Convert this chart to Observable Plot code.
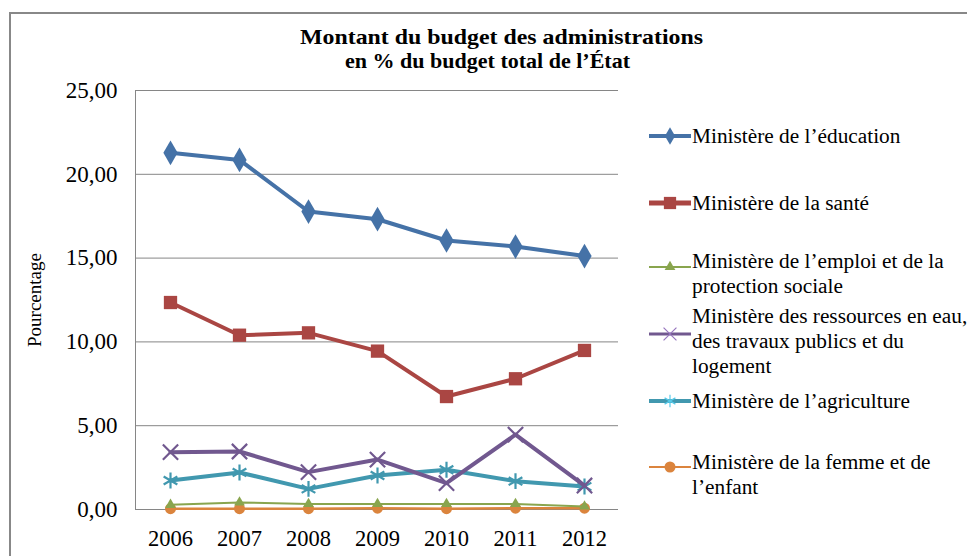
<!DOCTYPE html>
<html>
<head>
<meta charset="utf-8">
<script src="https://cdn.jsdelivr.net/npm/d3@7"></script>
<script src="https://cdn.jsdelivr.net/npm/@observablehq/plot@0.6"></script>
<style>
  html, body { margin: 0; padding: 0; background: #fff; }
  #wrap { position: relative; width: 967px; height: 556px; overflow: hidden; font-family: "Liberation Serif", "Times New Roman", serif; }
  #frame { position: absolute; left: 9px; top: 12px; width: 1000px; height: 600px; border-left: 2px solid #888; border-top: 2px solid #888; }
  .title { position: absolute; font-weight: bold; font-size: 22px; line-height: 24px; color: #000; white-space: nowrap; transform-origin: 0 50%; }
  #chart { position: absolute; left: 0; top: 0; }
  .leg { position: absolute; left: 692px; font-size: 20px; line-height: 25px; color: #000; white-space: nowrap; transform: scaleX(1.066); transform-origin: 0 50%; }
  #legsw { position: absolute; left: 0; top: 0; }
</style>
</head>
<body>
<div id="wrap">
  <div id="frame"></div>
  <div id="chart"></div>
  <div class="title" id="t1" style="left:300px; top:25px;">Montant du budget des administrations</div>
  <div class="title" id="t2" style="left:345px; top:49px;">en % du budget total de l’État</div>
</div>
<script>
const years = ["2006", "2007", "2008", "2009", "2010", "2011", "2012"];
const seriesNames = [
  "Ministère de l’éducation",
  "Ministère de la santé",
  "Ministère de l’emploi et de la protection sociale",
  "Ministère des ressources en eau, des travaux publics et du logement",
  "Ministère de l’agriculture",
  "Ministère de la femme et de l’enfant"
];
const education   = [21.28, 20.86, 17.78, 17.32, 16.05, 15.69, 15.12];
const sante       = [12.35, 10.40, 10.54, 9.45, 6.74, 7.80, 9.49];
const emploi      = [0.28, 0.42, 0.33, 0.33, 0.33, 0.33, 0.18];
const ressources  = [3.42, 3.46, 2.23, 2.98, 1.57, 4.47, 1.43];
const agriculture = [1.73, 2.21, 1.23, 2.03, 2.37, 1.69, 1.37];
const femme       = [0.05, 0.05, 0.05, 0.08, 0.05, 0.08, 0.08];
const yTicks = [0, 5, 10, 15, 20, 25];
const legendLines = [
  ["Ministère de l’éducation"],
  ["Ministère de la santé"],
  ["Ministère de l’emploi et de la", "protection sociale"],
  ["Ministère des ressources en eau,", "des travaux publics et du", "logement"],
  ["Ministère de l’agriculture"],
  ["Ministère de la femme et de", "l’enfant"]
];

const allValues = [education, sante, emploi, ressources, agriculture, femme];
const colors  = ["#4572A7", "#AA4643", "#89A54E", "#71588F", "#4198AF", "#DB843D"];
const symbols = ["diamond", "square", "triangle", "times", "asterisk", "circle"];
const lineW   = [4, 4, 2, 4, 4, 2.5];
const dotR    = [7.5, 7.5, 4, 7, 7.5, 5.5];
const isStrokeSym = [false, false, false, true, true, false];

const table = [];
allValues.forEach((vals, i) => vals.forEach((v, j) => table.push({series: seriesNames[i], idx: i, year: years[j], value: v})));

const fmt = d => d.toFixed(2).replace(".", ",");

const marks = [
  Plot.gridY(yTicks, {stroke: "#868686", strokeOpacity: 1, strokeWidth: 1}),
  Plot.frame({anchor: "left", stroke: "#868686", strokeWidth: 1}),
  Plot.axisY(yTicks, {tickSize: 0, tickPadding: 18, tickFormat: fmt, fontSize: 23, label: null}),
  Plot.axisY([], {tickSize: 0, fontSize: 19, label: "Pourcentage", labelAnchor: "center", labelOffset: 108, labelArrow: "none"}),
  Plot.axisX({tickSize: 0, tickPadding: 21, fontSize: 22.5, label: null})
];
[5, 2, 4, 3, 1, 0].forEach(i => {
  const data = table.filter(d => d.idx === i);
  marks.push(Plot.line(data, {x: "year", y: "value", stroke: colors[i], strokeWidth: lineW[i]}));
  if (isStrokeSym[i]) {
    marks.push(Plot.dot(data, {x: "year", y: "value", symbol: symbols[i], r: dotR[i], stroke: colors[i], strokeWidth: 2.2, fill: "none"}));
  } else {
    marks.push(Plot.dot(data, {x: "year", y: "value", symbol: symbols[i], r: dotR[i], fill: colors[i], stroke: "none"}));
  }
});

const chart = Plot.plot({
  width: 967,
  height: 556,
  marginLeft: 135,
  marginRight: 349,
  marginTop: 90,
  marginBottom: 47,
  style: {fontFamily: "'Liberation Serif', 'Times New Roman', serif", fontSize: "20px", color: "#000", background: "transparent"},
  x: {type: "point", domain: years, padding: 0.5},
  y: {domain: [0, 25]},
  marks
});
document.getElementById("chart").appendChild(chart);

// Title lines stretched to the reference widths
function fit(id, target) {
  const el = document.getElementById(id);
  const w = el.getBoundingClientRect().width;
  el.style.transform = `scaleX(${target / w})`;
}
fit("t1", 403);
fit("t2", 285);

// Legend
const wrap = document.getElementById("wrap");
const legTops = [123.5, 190.5, 248.5, 303.5, 389, 449.5];
const swY = [136, 203, 267, 334, 401, 467];
const swW = [4, 5, 2, 3, 4, 2];
legendLines.forEach((lines, i) => {
  const div = document.createElement("div");
  div.className = "leg";
  div.style.top = legTops[i] + "px";
  div.innerHTML = lines.join("<br>");
  wrap.appendChild(div);
});
const svg = d3.select(wrap).append("svg").attr("id", "legsw").attr("width", 967).attr("height", 556);
const symMap = {diamond: d3.symbolDiamond, square: d3.symbolSquare, triangle: d3.symbolTriangle, times: d3.symbolTimes, asterisk: d3.symbolAsterisk, circle: d3.symbolCircle};
const swSize = [90, 150, 50, 110, 110, 95];
swY.forEach((y, i) => {
  svg.append("line").attr("x1", 649).attr("x2", 691).attr("y1", y).attr("y2", y).attr("stroke", colors[i]).attr("stroke-width", swW[i]);
  const p = svg.append("path").attr("transform", `translate(670,${y})`).attr("d", d3.symbol(symMap[symbols[i]], swSize[i])());
  if (isStrokeSym[i]) p.attr("fill", "none").attr("stroke", d3.color(colors[i]).brighter(0.8)).attr("stroke-width", 1.2);
  else p.attr("fill", colors[i]);
});
</script>
</body>
</html>
